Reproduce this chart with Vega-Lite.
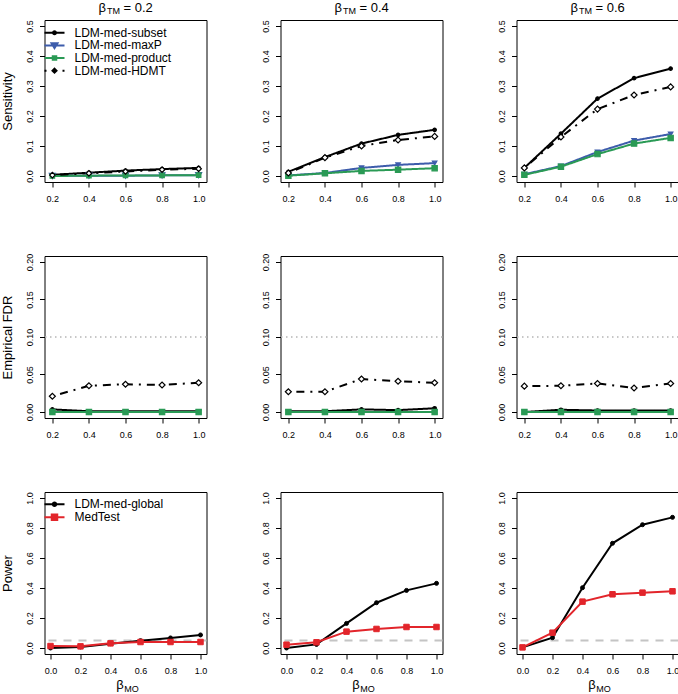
{
"$schema":"https://vega.github.io/schema/vega-lite/v6.json",
"background":"white",
"padding":{"left":0.5,"top":1,"right":0,"bottom":0},
"datasets":{
"s02":[
{"x":0.2,"method":"LDM-med-subset","value":0.004},{"x":0.4,"method":"LDM-med-subset","value":0.011},{"x":0.6,"method":"LDM-med-subset","value":0.018},{"x":0.8,"method":"LDM-med-subset","value":0.023},{"x":1.0,"method":"LDM-med-subset","value":0.027},
{"x":0.2,"method":"LDM-med-maxP","value":0.0},{"x":0.4,"method":"LDM-med-maxP","value":0.001},{"x":0.6,"method":"LDM-med-maxP","value":0.001},{"x":0.8,"method":"LDM-med-maxP","value":0.002},{"x":1.0,"method":"LDM-med-maxP","value":0.003},
{"x":0.2,"method":"LDM-med-product","value":0.0},{"x":0.4,"method":"LDM-med-product","value":0.001},{"x":0.6,"method":"LDM-med-product","value":0.002},{"x":0.8,"method":"LDM-med-product","value":0.002},{"x":1.0,"method":"LDM-med-product","value":0.003},
{"x":0.2,"method":"LDM-med-HDMT","value":0.003},{"x":0.4,"method":"LDM-med-HDMT","value":0.009},{"x":0.6,"method":"LDM-med-HDMT","value":0.015},{"x":0.8,"method":"LDM-med-HDMT","value":0.021},{"x":1.0,"method":"LDM-med-HDMT","value":0.024}],
"s04":[
{"x":0.2,"method":"LDM-med-subset","value":0.014},{"x":0.4,"method":"LDM-med-subset","value":0.063},{"x":0.6,"method":"LDM-med-subset","value":0.108},{"x":0.8,"method":"LDM-med-subset","value":0.137},{"x":1.0,"method":"LDM-med-subset","value":0.154},
{"x":0.2,"method":"LDM-med-maxP","value":0.002},{"x":0.4,"method":"LDM-med-maxP","value":0.010},{"x":0.6,"method":"LDM-med-maxP","value":0.027},{"x":0.8,"method":"LDM-med-maxP","value":0.037},{"x":1.0,"method":"LDM-med-maxP","value":0.043},
{"x":0.2,"method":"LDM-med-product","value":0.001},{"x":0.4,"method":"LDM-med-product","value":0.009},{"x":0.6,"method":"LDM-med-product","value":0.017},{"x":0.8,"method":"LDM-med-product","value":0.021},{"x":1.0,"method":"LDM-med-product","value":0.026},
{"x":0.2,"method":"LDM-med-HDMT","value":0.010},{"x":0.4,"method":"LDM-med-HDMT","value":0.061},{"x":0.6,"method":"LDM-med-HDMT","value":0.100},{"x":0.8,"method":"LDM-med-HDMT","value":0.120},{"x":1.0,"method":"LDM-med-HDMT","value":0.132}],
"s06":[
{"x":0.2,"method":"LDM-med-subset","value":0.027},{"x":0.4,"method":"LDM-med-subset","value":0.141},{"x":0.6,"method":"LDM-med-subset","value":0.258},{"x":0.8,"method":"LDM-med-subset","value":0.326},{"x":1.0,"method":"LDM-med-subset","value":0.358},
{"x":0.2,"method":"LDM-med-maxP","value":0.006},{"x":0.4,"method":"LDM-med-maxP","value":0.033},{"x":0.6,"method":"LDM-med-maxP","value":0.080},{"x":0.8,"method":"LDM-med-maxP","value":0.118},{"x":1.0,"method":"LDM-med-maxP","value":0.140},
{"x":0.2,"method":"LDM-med-product","value":0.004},{"x":0.4,"method":"LDM-med-product","value":0.031},{"x":0.6,"method":"LDM-med-product","value":0.073},{"x":0.8,"method":"LDM-med-product","value":0.108},{"x":1.0,"method":"LDM-med-product","value":0.127},
{"x":0.2,"method":"LDM-med-HDMT","value":0.027},{"x":0.4,"method":"LDM-med-HDMT","value":0.130},{"x":0.6,"method":"LDM-med-HDMT","value":0.223},{"x":0.8,"method":"LDM-med-HDMT","value":0.270},{"x":1.0,"method":"LDM-med-HDMT","value":0.297}],
"f02":[
{"x":0.2,"method":"LDM-med-subset","value":0.0035},{"x":0.4,"method":"LDM-med-subset","value":0.001},{"x":0.6,"method":"LDM-med-subset","value":0.001},{"x":0.8,"method":"LDM-med-subset","value":0.001},{"x":1.0,"method":"LDM-med-subset","value":0.001},
{"x":0.2,"method":"LDM-med-maxP","value":0.0},{"x":0.4,"method":"LDM-med-maxP","value":0.0},{"x":0.6,"method":"LDM-med-maxP","value":0.0},{"x":0.8,"method":"LDM-med-maxP","value":0.0},{"x":1.0,"method":"LDM-med-maxP","value":0.0},
{"x":0.2,"method":"LDM-med-product","value":0.0},{"x":0.4,"method":"LDM-med-product","value":0.0},{"x":0.6,"method":"LDM-med-product","value":0.0},{"x":0.8,"method":"LDM-med-product","value":0.0},{"x":1.0,"method":"LDM-med-product","value":0.0},
{"x":0.2,"method":"LDM-med-HDMT","value":0.021},{"x":0.4,"method":"LDM-med-HDMT","value":0.035},{"x":0.6,"method":"LDM-med-HDMT","value":0.037},{"x":0.8,"method":"LDM-med-HDMT","value":0.036},{"x":1.0,"method":"LDM-med-HDMT","value":0.039}],
"f04":[
{"x":0.2,"method":"LDM-med-subset","value":0.001},{"x":0.4,"method":"LDM-med-subset","value":0.001},{"x":0.6,"method":"LDM-med-subset","value":0.0035},{"x":0.8,"method":"LDM-med-subset","value":0.0025},{"x":1.0,"method":"LDM-med-subset","value":0.005},
{"x":0.2,"method":"LDM-med-maxP","value":0.0},{"x":0.4,"method":"LDM-med-maxP","value":0.0},{"x":0.6,"method":"LDM-med-maxP","value":0.0},{"x":0.8,"method":"LDM-med-maxP","value":0.0},{"x":1.0,"method":"LDM-med-maxP","value":0.0},
{"x":0.2,"method":"LDM-med-product","value":0.0},{"x":0.4,"method":"LDM-med-product","value":0.0},{"x":0.6,"method":"LDM-med-product","value":0.0},{"x":0.8,"method":"LDM-med-product","value":0.0},{"x":1.0,"method":"LDM-med-product","value":0.0},
{"x":0.2,"method":"LDM-med-HDMT","value":0.027},{"x":0.4,"method":"LDM-med-HDMT","value":0.027},{"x":0.6,"method":"LDM-med-HDMT","value":0.044},{"x":0.8,"method":"LDM-med-HDMT","value":0.041},{"x":1.0,"method":"LDM-med-HDMT","value":0.039}],
"f06":[
{"x":0.2,"method":"LDM-med-subset","value":0.0},{"x":0.4,"method":"LDM-med-subset","value":0.003},{"x":0.6,"method":"LDM-med-subset","value":0.002},{"x":0.8,"method":"LDM-med-subset","value":0.002},{"x":1.0,"method":"LDM-med-subset","value":0.002},
{"x":0.2,"method":"LDM-med-maxP","value":0.0},{"x":0.4,"method":"LDM-med-maxP","value":0.0},{"x":0.6,"method":"LDM-med-maxP","value":0.0},{"x":0.8,"method":"LDM-med-maxP","value":0.0},{"x":1.0,"method":"LDM-med-maxP","value":0.0},
{"x":0.2,"method":"LDM-med-product","value":0.0},{"x":0.4,"method":"LDM-med-product","value":0.0},{"x":0.6,"method":"LDM-med-product","value":0.0},{"x":0.8,"method":"LDM-med-product","value":0.0},{"x":1.0,"method":"LDM-med-product","value":0.0},
{"x":0.2,"method":"LDM-med-HDMT","value":0.0345},{"x":0.4,"method":"LDM-med-HDMT","value":0.035},{"x":0.6,"method":"LDM-med-HDMT","value":0.038},{"x":0.8,"method":"LDM-med-HDMT","value":0.032},{"x":1.0,"method":"LDM-med-HDMT","value":0.038}],
"p02":[
{"x":0.0,"method":"LDM-med-global","value":0.0},{"x":0.2,"method":"LDM-med-global","value":0.007},{"x":0.4,"method":"LDM-med-global","value":0.029},{"x":0.6,"method":"LDM-med-global","value":0.049},{"x":0.8,"method":"LDM-med-global","value":0.067},{"x":1.0,"method":"LDM-med-global","value":0.087},
{"x":0.0,"method":"MedTest","value":0.013},{"x":0.2,"method":"MedTest","value":0.011},{"x":0.4,"method":"MedTest","value":0.031},{"x":0.6,"method":"MedTest","value":0.040},{"x":0.8,"method":"MedTest","value":0.040},{"x":1.0,"method":"MedTest","value":0.040}],
"p04":[
{"x":0.0,"method":"LDM-med-global","value":0.0},{"x":0.2,"method":"LDM-med-global","value":0.024},{"x":0.4,"method":"LDM-med-global","value":0.164},{"x":0.6,"method":"LDM-med-global","value":0.302},{"x":0.8,"method":"LDM-med-global","value":0.384},{"x":1.0,"method":"LDM-med-global","value":0.431},
{"x":0.0,"method":"MedTest","value":0.022},{"x":0.2,"method":"MedTest","value":0.038},{"x":0.4,"method":"MedTest","value":0.109},{"x":0.6,"method":"MedTest","value":0.127},{"x":0.8,"method":"MedTest","value":0.140},{"x":1.0,"method":"MedTest","value":0.140}],
"p06":[
{"x":0.0,"method":"LDM-med-global","value":0.004},{"x":0.2,"method":"LDM-med-global","value":0.069},{"x":0.4,"method":"LDM-med-global","value":0.402},{"x":0.6,"method":"LDM-med-global","value":0.698},{"x":0.8,"method":"LDM-med-global","value":0.822},{"x":1.0,"method":"LDM-med-global","value":0.871},
{"x":0.0,"method":"MedTest","value":0.004},{"x":0.2,"method":"MedTest","value":0.102},{"x":0.4,"method":"MedTest","value":0.309},{"x":0.6,"method":"MedTest","value":0.358},{"x":0.8,"method":"MedTest","value":0.369},{"x":1.0,"method":"MedTest","value":0.378}],
"one":[{"k":1}]
},
"columns":3,
"spacing":74,
"bounds":"flush",
"resolve":{"scale":{"color":"independent","fill":"independent","stroke":"independent","shape":"independent","size":"independent","strokeDash":"independent"}},
"concat":[
{"width":162,"height":162,"data":{"name":"s02"},
 "resolve":{"scale":{"shape":"independent"}},
 "layer":[
  {"mark":{"type":"line","strokeWidth":2},
   "encoding":{
    "x":{"field":"x","type":"quantitative","scale":{"domain":[0.157,1.043],"nice":false,"zero":false},"axis":{"values":[0.2,0.4,0.6,0.8,1.0],"format":".1f","title":null,"labelOverlap":false,"tickCount":12}},
    "y":{"field":"value","type":"quantitative","scale":{"domain":[-0.02,0.52],"nice":false,"zero":false},"axis":{"values":[0,0.1,0.2,0.3,0.4,0.5],"format":".1f","title":"Sensitivity","labelOverlap":false,"tickCount":12}},
    "stroke":{"field":"method","type":"nominal","scale":{"domain":["LDM-med-subset","LDM-med-maxP","LDM-med-product","LDM-med-HDMT"],"range":["#000000","#3D5CAB","#2A9A55","#000000"]},"legend":null},
    "strokeDash":{"field":"method","type":"nominal","scale":{"domain":["LDM-med-subset","LDM-med-maxP","LDM-med-product","LDM-med-HDMT"],"range":[[1,0],[1,0],[1,0],[2,6,8,6]]},"legend":null}}},
  {"transform":[{"filter":"datum.method === 'LDM-med-subset'"}],
   "mark":{"type":"point","filled":true,"opacity":1,"shape":"circle","size":12,"fill":"#000000","stroke":"#000000","strokeWidth":1.2},
   "encoding":{"x":{"field":"x","type":"quantitative"},"y":{"field":"value","type":"quantitative"}}},
  {"transform":[{"filter":"datum.method === 'LDM-med-maxP'"}],
   "mark":{"type":"point","filled":true,"opacity":1,"shape":"triangle-down","size":36,"fill":"#3D5CAB","stroke":"#3D5CAB","strokeWidth":1.2},
   "encoding":{"x":{"field":"x","type":"quantitative"},"y":{"field":"value","type":"quantitative"}}},
  {"transform":[{"filter":"datum.method === 'LDM-med-product'"}],
   "mark":{"type":"point","filled":true,"opacity":1,"shape":"square","size":20,"fill":"#2A9A55","stroke":"#2A9A55","strokeWidth":1.2},
   "encoding":{"x":{"field":"x","type":"quantitative"},"y":{"field":"value","type":"quantitative"}}},
  {"transform":[{"filter":"datum.method === 'LDM-med-HDMT'"}],
   "mark":{"type":"point","filled":true,"opacity":1,"shape":"diamond","size":30,"fill":"#ffffff","stroke":"#000000","strokeWidth":1.2},
   "encoding":{"x":{"field":"x","type":"quantitative"},"y":{"field":"value","type":"quantitative"}}},
  {"transform":[{"filter":"datum.method === 'LDM-med-subset'"}],
   "mark":{"type":"point","filled":false,"opacity":0,"color":"#000000"},
   "encoding":{"x":{"field":"x","type":"quantitative"},"y":{"field":"value","type":"quantitative"},
    "shape":{"field":"method","type":"nominal","scale":{"domain":["LDM-med-subset"],"range":["M-2,0L2,0M0.3,0A0.3,0.3,0,1,1,-0.3,0A0.3,0.3,0,1,1,0.3,0"]},
      "legend":{"title":null,"orient":"none","legendX":4,"legendY":6.7,"symbolSize":100,"symbolStrokeWidth":2,"symbolOpacity":1,"labelFont":"Liberation Sans","labelFontSize":12,"labelColor":"black","labelOffset":14,"padding":0,"labelLimit":300}}}},
  {"transform":[{"filter":"datum.method === 'LDM-med-maxP'"}],
   "mark":{"type":"point","filled":false,"opacity":0,"color":"#3D5CAB"},
   "encoding":{"x":{"field":"x","type":"quantitative"},"y":{"field":"value","type":"quantitative"},
    "shape":{"field":"method","type":"nominal","scale":{"domain":["LDM-med-maxP"],"range":["M-2,0L2,0M-0.6,-0.45L0.6,-0.45L0,0.55ZM-0.25,-0.25L0.25,-0.25L0,0.2Z"]},
      "legend":{"title":null,"orient":"none","legendX":4,"legendY":19.4,"symbolSize":100,"symbolStrokeWidth":2,"symbolOpacity":1,"labelFont":"Liberation Sans","labelFontSize":12,"labelColor":"black","labelOffset":14,"padding":0,"labelLimit":300}}}},
  {"transform":[{"filter":"datum.method === 'LDM-med-product'"}],
   "mark":{"type":"point","filled":false,"opacity":0,"color":"#2A9A55"},
   "encoding":{"x":{"field":"x","type":"quantitative"},"y":{"field":"value","type":"quantitative"},
    "shape":{"field":"method","type":"nominal","scale":{"domain":["LDM-med-product"],"range":["M-2,0L2,0M-0.35,-0.35L0.35,-0.35L0.35,0.35L-0.35,0.35Z"]},
      "legend":{"title":null,"orient":"none","legendX":4,"legendY":32.0,"symbolSize":100,"symbolStrokeWidth":2,"symbolOpacity":1,"labelFont":"Liberation Sans","labelFontSize":12,"labelColor":"black","labelOffset":14,"padding":0,"labelLimit":300}}}},
  {"transform":[{"filter":"datum.method === 'LDM-med-HDMT'"}],
   "mark":{"type":"point","filled":false,"opacity":0,"color":"#000000"},
   "encoding":{"x":{"field":"x","type":"quantitative"},"y":{"field":"value","type":"quantitative"},
    "shape":{"field":"method","type":"nominal","scale":{"domain":["LDM-med-HDMT"],"range":["M-2,0L-1.6,0M1.6,0L2,0M0,-0.4L0.4,0L0,0.4L-0.4,0ZM-0.3,0L0.3,0"]},
      "legend":{"title":null,"orient":"none","legendX":4,"legendY":44.7,"symbolSize":100,"symbolStrokeWidth":2,"symbolOpacity":1,"labelFont":"Liberation Sans","labelFontSize":12,"labelColor":"black","labelOffset":14,"padding":0,"labelLimit":300}}}},
  {"data":{"name":"one"},"mark":{"type":"text","text":"β","font":"Liberation Sans","fontSize":13,"align":"right","baseline":"alphabetic","dx":-19.5},"encoding":{"x":{"datum":0.6},"y":{"datum":0.5477}}},
  {"data":{"name":"one"},"mark":{"type":"text","text":"TM","font":"Liberation Sans","fontSize":9,"align":"left","baseline":"alphabetic","dx":-18.5,"dy":2.3},"encoding":{"x":{"datum":0.6},"y":{"datum":0.5477}}},
  {"data":{"name":"one"},"mark":{"type":"text","text":"= 0.2","font":"Liberation Sans","fontSize":13,"align":"left","baseline":"alphabetic","dx":-2},"encoding":{"x":{"datum":0.6},"y":{"datum":0.5477}}}
 ]},
{"width":162,"height":162,"data":{"name":"s04"},
 "layer":[
  {"mark":{"type":"line","strokeWidth":2},
   "encoding":{
    "x":{"field":"x","type":"quantitative","scale":{"domain":[0.157,1.043],"nice":false,"zero":false},"axis":{"values":[0.2,0.4,0.6,0.8,1.0],"format":".1f","title":null,"labelOverlap":false,"tickCount":12}},
    "y":{"field":"value","type":"quantitative","scale":{"domain":[-0.02,0.52],"nice":false,"zero":false},"axis":{"values":[0,0.1,0.2,0.3,0.4,0.5],"format":".1f","title":null,"labelOverlap":false,"tickCount":12}},
    "stroke":{"field":"method","type":"nominal","scale":{"domain":["LDM-med-subset","LDM-med-maxP","LDM-med-product","LDM-med-HDMT"],"range":["#000000","#3D5CAB","#2A9A55","#000000"]},"legend":null},
    "strokeDash":{"field":"method","type":"nominal","scale":{"domain":["LDM-med-subset","LDM-med-maxP","LDM-med-product","LDM-med-HDMT"],"range":[[1,0],[1,0],[1,0],[2,6,8,6]]},"legend":null}}},
  {"mark":{"type":"point","filled":true,"opacity":1,"strokeWidth":1.2},
   "encoding":{
    "x":{"field":"x","type":"quantitative","scale":{"domain":[0.157,1.043],"nice":false,"zero":false},"axis":{"values":[0.2,0.4,0.6,0.8,1.0],"format":".1f","title":null,"labelOverlap":false,"tickCount":12}},
    "y":{"field":"value","type":"quantitative","scale":{"domain":[-0.02,0.52],"nice":false,"zero":false},"axis":{"values":[0,0.1,0.2,0.3,0.4,0.5],"format":".1f","title":null,"labelOverlap":false,"tickCount":12}},
    "fill":{"field":"method","type":"nominal","scale":{"domain":["LDM-med-subset","LDM-med-maxP","LDM-med-product","LDM-med-HDMT"],"range":["#000000","#3D5CAB","#2A9A55","#ffffff"]},"legend":null},
    "stroke":{"field":"method","type":"nominal","scale":{"domain":["LDM-med-subset","LDM-med-maxP","LDM-med-product","LDM-med-HDMT"],"range":["#000000","#3D5CAB","#2A9A55","#000000"]},"legend":null},
    "shape":{"field":"method","type":"nominal","scale":{"domain":["LDM-med-subset","LDM-med-maxP","LDM-med-product","LDM-med-HDMT"],"range":["circle","triangle-down","square","diamond"]},"legend":null},
    "size":{"field":"method","type":"nominal","scale":{"domain":["LDM-med-subset","LDM-med-maxP","LDM-med-product","LDM-med-HDMT"],"range":[12,36,20,30]},"legend":null}}},
  {"data":{"name":"one"},"mark":{"type":"text","text":"β","font":"Liberation Sans","fontSize":13,"align":"right","baseline":"alphabetic","dx":-19.5},"encoding":{"x":{"datum":0.6},"y":{"datum":0.5477}}},
  {"data":{"name":"one"},"mark":{"type":"text","text":"TM","font":"Liberation Sans","fontSize":9,"align":"left","baseline":"alphabetic","dx":-18.5,"dy":2.3},"encoding":{"x":{"datum":0.6},"y":{"datum":0.5477}}},
  {"data":{"name":"one"},"mark":{"type":"text","text":"= 0.4","font":"Liberation Sans","fontSize":13,"align":"left","baseline":"alphabetic","dx":-2},"encoding":{"x":{"datum":0.6},"y":{"datum":0.5477}}}
 ]},
{"width":162,"height":162,"data":{"name":"s06"},
 "layer":[
  {"mark":{"type":"line","strokeWidth":2},
   "encoding":{
    "x":{"field":"x","type":"quantitative","scale":{"domain":[0.157,1.043],"nice":false,"zero":false},"axis":{"values":[0.2,0.4,0.6,0.8,1.0],"format":".1f","title":null,"labelOverlap":false,"tickCount":12}},
    "y":{"field":"value","type":"quantitative","scale":{"domain":[-0.02,0.52],"nice":false,"zero":false},"axis":{"values":[0,0.1,0.2,0.3,0.4,0.5],"format":".1f","title":null,"labelOverlap":false,"tickCount":12}},
    "stroke":{"field":"method","type":"nominal","scale":{"domain":["LDM-med-subset","LDM-med-maxP","LDM-med-product","LDM-med-HDMT"],"range":["#000000","#3D5CAB","#2A9A55","#000000"]},"legend":null},
    "strokeDash":{"field":"method","type":"nominal","scale":{"domain":["LDM-med-subset","LDM-med-maxP","LDM-med-product","LDM-med-HDMT"],"range":[[1,0],[1,0],[1,0],[2,6,8,6]]},"legend":null}}},
  {"mark":{"type":"point","filled":true,"opacity":1,"strokeWidth":1.2},
   "encoding":{
    "x":{"field":"x","type":"quantitative","scale":{"domain":[0.157,1.043],"nice":false,"zero":false},"axis":{"values":[0.2,0.4,0.6,0.8,1.0],"format":".1f","title":null,"labelOverlap":false,"tickCount":12}},
    "y":{"field":"value","type":"quantitative","scale":{"domain":[-0.02,0.52],"nice":false,"zero":false},"axis":{"values":[0,0.1,0.2,0.3,0.4,0.5],"format":".1f","title":null,"labelOverlap":false,"tickCount":12}},
    "fill":{"field":"method","type":"nominal","scale":{"domain":["LDM-med-subset","LDM-med-maxP","LDM-med-product","LDM-med-HDMT"],"range":["#000000","#3D5CAB","#2A9A55","#ffffff"]},"legend":null},
    "stroke":{"field":"method","type":"nominal","scale":{"domain":["LDM-med-subset","LDM-med-maxP","LDM-med-product","LDM-med-HDMT"],"range":["#000000","#3D5CAB","#2A9A55","#000000"]},"legend":null},
    "shape":{"field":"method","type":"nominal","scale":{"domain":["LDM-med-subset","LDM-med-maxP","LDM-med-product","LDM-med-HDMT"],"range":["circle","triangle-down","square","diamond"]},"legend":null},
    "size":{"field":"method","type":"nominal","scale":{"domain":["LDM-med-subset","LDM-med-maxP","LDM-med-product","LDM-med-HDMT"],"range":[12,36,20,30]},"legend":null}}},
  {"data":{"name":"one"},"mark":{"type":"text","text":"β","font":"Liberation Sans","fontSize":13,"align":"right","baseline":"alphabetic","dx":-19.5},"encoding":{"x":{"datum":0.6},"y":{"datum":0.5477}}},
  {"data":{"name":"one"},"mark":{"type":"text","text":"TM","font":"Liberation Sans","fontSize":9,"align":"left","baseline":"alphabetic","dx":-18.5,"dy":2.3},"encoding":{"x":{"datum":0.6},"y":{"datum":0.5477}}},
  {"data":{"name":"one"},"mark":{"type":"text","text":"= 0.6","font":"Liberation Sans","fontSize":13,"align":"left","baseline":"alphabetic","dx":-2},"encoding":{"x":{"datum":0.6},"y":{"datum":0.5477}}}
 ]},
{"width":162,"height":162,"data":{"name":"f02"},
 "layer":[
  {"data":{"name":"one"},"mark":{"type":"rule","color":"#b5b5b5","strokeWidth":1.5,"strokeDash":[1.5,3.5]},"encoding":{"y":{"datum":0.1}}},
  {"mark":{"type":"line","strokeWidth":2},
   "encoding":{
    "x":{"field":"x","type":"quantitative","scale":{"domain":[0.157,1.043],"nice":false,"zero":false},"axis":{"values":[0.2,0.4,0.6,0.8,1.0],"format":".1f","title":null,"labelOverlap":false,"tickCount":12}},
    "y":{"field":"value","type":"quantitative","scale":{"domain":[-0.008,0.208],"nice":false,"zero":false},"axis":{"values":[0,0.05,0.1,0.15,0.2],"format":".2f","title":"Empirical FDR","labelOverlap":false,"tickCount":12}},
    "stroke":{"field":"method","type":"nominal","scale":{"domain":["LDM-med-subset","LDM-med-maxP","LDM-med-product","LDM-med-HDMT"],"range":["#000000","#3D5CAB","#2A9A55","#000000"]},"legend":null},
    "strokeDash":{"field":"method","type":"nominal","scale":{"domain":["LDM-med-subset","LDM-med-maxP","LDM-med-product","LDM-med-HDMT"],"range":[[1,0],[1,0],[1,0],[2,6,8,6]]},"legend":null}}},
  {"mark":{"type":"point","filled":true,"opacity":1,"strokeWidth":1.2},
   "encoding":{
    "x":{"field":"x","type":"quantitative","scale":{"domain":[0.157,1.043],"nice":false,"zero":false},"axis":{"values":[0.2,0.4,0.6,0.8,1.0],"format":".1f","title":null,"labelOverlap":false,"tickCount":12}},
    "y":{"field":"value","type":"quantitative","scale":{"domain":[-0.008,0.208],"nice":false,"zero":false},"axis":{"values":[0,0.05,0.1,0.15,0.2],"format":".2f","title":"Empirical FDR","labelOverlap":false,"tickCount":12}},
    "fill":{"field":"method","type":"nominal","scale":{"domain":["LDM-med-subset","LDM-med-maxP","LDM-med-product","LDM-med-HDMT"],"range":["#000000","#3D5CAB","#2A9A55","#ffffff"]},"legend":null},
    "stroke":{"field":"method","type":"nominal","scale":{"domain":["LDM-med-subset","LDM-med-maxP","LDM-med-product","LDM-med-HDMT"],"range":["#000000","#3D5CAB","#2A9A55","#000000"]},"legend":null},
    "shape":{"field":"method","type":"nominal","scale":{"domain":["LDM-med-subset","LDM-med-maxP","LDM-med-product","LDM-med-HDMT"],"range":["circle","triangle-down","square","diamond"]},"legend":null},
    "size":{"field":"method","type":"nominal","scale":{"domain":["LDM-med-subset","LDM-med-maxP","LDM-med-product","LDM-med-HDMT"],"range":[12,36,20,30]},"legend":null}}}
 ]},
{"width":162,"height":162,"data":{"name":"f04"},
 "layer":[
  {"data":{"name":"one"},"mark":{"type":"rule","color":"#b5b5b5","strokeWidth":1.5,"strokeDash":[1.5,3.5]},"encoding":{"y":{"datum":0.1}}},
  {"mark":{"type":"line","strokeWidth":2},
   "encoding":{
    "x":{"field":"x","type":"quantitative","scale":{"domain":[0.157,1.043],"nice":false,"zero":false},"axis":{"values":[0.2,0.4,0.6,0.8,1.0],"format":".1f","title":null,"labelOverlap":false,"tickCount":12}},
    "y":{"field":"value","type":"quantitative","scale":{"domain":[-0.008,0.208],"nice":false,"zero":false},"axis":{"values":[0,0.05,0.1,0.15,0.2],"format":".2f","title":null,"labelOverlap":false,"tickCount":12}},
    "stroke":{"field":"method","type":"nominal","scale":{"domain":["LDM-med-subset","LDM-med-maxP","LDM-med-product","LDM-med-HDMT"],"range":["#000000","#3D5CAB","#2A9A55","#000000"]},"legend":null},
    "strokeDash":{"field":"method","type":"nominal","scale":{"domain":["LDM-med-subset","LDM-med-maxP","LDM-med-product","LDM-med-HDMT"],"range":[[1,0],[1,0],[1,0],[2,6,8,6]]},"legend":null}}},
  {"mark":{"type":"point","filled":true,"opacity":1,"strokeWidth":1.2},
   "encoding":{
    "x":{"field":"x","type":"quantitative","scale":{"domain":[0.157,1.043],"nice":false,"zero":false},"axis":{"values":[0.2,0.4,0.6,0.8,1.0],"format":".1f","title":null,"labelOverlap":false,"tickCount":12}},
    "y":{"field":"value","type":"quantitative","scale":{"domain":[-0.008,0.208],"nice":false,"zero":false},"axis":{"values":[0,0.05,0.1,0.15,0.2],"format":".2f","title":null,"labelOverlap":false,"tickCount":12}},
    "fill":{"field":"method","type":"nominal","scale":{"domain":["LDM-med-subset","LDM-med-maxP","LDM-med-product","LDM-med-HDMT"],"range":["#000000","#3D5CAB","#2A9A55","#ffffff"]},"legend":null},
    "stroke":{"field":"method","type":"nominal","scale":{"domain":["LDM-med-subset","LDM-med-maxP","LDM-med-product","LDM-med-HDMT"],"range":["#000000","#3D5CAB","#2A9A55","#000000"]},"legend":null},
    "shape":{"field":"method","type":"nominal","scale":{"domain":["LDM-med-subset","LDM-med-maxP","LDM-med-product","LDM-med-HDMT"],"range":["circle","triangle-down","square","diamond"]},"legend":null},
    "size":{"field":"method","type":"nominal","scale":{"domain":["LDM-med-subset","LDM-med-maxP","LDM-med-product","LDM-med-HDMT"],"range":[12,36,20,30]},"legend":null}}}
 ]},
{"width":162,"height":162,"data":{"name":"f06"},
 "layer":[
  {"data":{"name":"one"},"mark":{"type":"rule","color":"#b5b5b5","strokeWidth":1.5,"strokeDash":[1.5,3.5]},"encoding":{"y":{"datum":0.1}}},
  {"mark":{"type":"line","strokeWidth":2},
   "encoding":{
    "x":{"field":"x","type":"quantitative","scale":{"domain":[0.157,1.043],"nice":false,"zero":false},"axis":{"values":[0.2,0.4,0.6,0.8,1.0],"format":".1f","title":null,"labelOverlap":false,"tickCount":12}},
    "y":{"field":"value","type":"quantitative","scale":{"domain":[-0.008,0.208],"nice":false,"zero":false},"axis":{"values":[0,0.05,0.1,0.15,0.2],"format":".2f","title":null,"labelOverlap":false,"tickCount":12}},
    "stroke":{"field":"method","type":"nominal","scale":{"domain":["LDM-med-subset","LDM-med-maxP","LDM-med-product","LDM-med-HDMT"],"range":["#000000","#3D5CAB","#2A9A55","#000000"]},"legend":null},
    "strokeDash":{"field":"method","type":"nominal","scale":{"domain":["LDM-med-subset","LDM-med-maxP","LDM-med-product","LDM-med-HDMT"],"range":[[1,0],[1,0],[1,0],[2,6,8,6]]},"legend":null}}},
  {"mark":{"type":"point","filled":true,"opacity":1,"strokeWidth":1.2},
   "encoding":{
    "x":{"field":"x","type":"quantitative","scale":{"domain":[0.157,1.043],"nice":false,"zero":false},"axis":{"values":[0.2,0.4,0.6,0.8,1.0],"format":".1f","title":null,"labelOverlap":false,"tickCount":12}},
    "y":{"field":"value","type":"quantitative","scale":{"domain":[-0.008,0.208],"nice":false,"zero":false},"axis":{"values":[0,0.05,0.1,0.15,0.2],"format":".2f","title":null,"labelOverlap":false,"tickCount":12}},
    "fill":{"field":"method","type":"nominal","scale":{"domain":["LDM-med-subset","LDM-med-maxP","LDM-med-product","LDM-med-HDMT"],"range":["#000000","#3D5CAB","#2A9A55","#ffffff"]},"legend":null},
    "stroke":{"field":"method","type":"nominal","scale":{"domain":["LDM-med-subset","LDM-med-maxP","LDM-med-product","LDM-med-HDMT"],"range":["#000000","#3D5CAB","#2A9A55","#000000"]},"legend":null},
    "shape":{"field":"method","type":"nominal","scale":{"domain":["LDM-med-subset","LDM-med-maxP","LDM-med-product","LDM-med-HDMT"],"range":["circle","triangle-down","square","diamond"]},"legend":null},
    "size":{"field":"method","type":"nominal","scale":{"domain":["LDM-med-subset","LDM-med-maxP","LDM-med-product","LDM-med-HDMT"],"range":[12,36,20,30]},"legend":null}}}
 ]},
{"width":162,"height":162,"data":{"name":"p02"},
 "resolve":{"scale":{"shape":"independent"}},
 "layer":[
  {"data":{"name":"one"},"mark":{"type":"rule","color":"#c4c4c4","strokeWidth":2,"strokeDash":[8,7]},"encoding":{"y":{"datum":0.05}}},
  {"mark":{"type":"line","strokeWidth":2},
   "encoding":{
    "x":{"field":"x","type":"quantitative","scale":{"domain":[-0.04,1.04],"nice":false,"zero":false},"axis":{"values":[0,0.2,0.4,0.6,0.8,1.0],"format":".1f","title":null,"labelOverlap":false,"tickCount":12}},
    "y":{"field":"value","type":"quantitative","scale":{"domain":[-0.04,1.04],"nice":false,"zero":false},"axis":{"values":[0,0.2,0.4,0.6,0.8,1.0],"format":".1f","title":"Power","labelOverlap":false,"tickCount":12}},
    "stroke":{"field":"method","type":"nominal","scale":{"domain":["LDM-med-global","MedTest"],"range":["#000000","#E2252B"]},"legend":null}}},
  {"transform":[{"filter":"datum.method === 'LDM-med-global'"}],
   "mark":{"type":"point","filled":true,"opacity":1,"shape":"circle","size":16,"fill":"#000000","stroke":"#000000","strokeWidth":1},
   "encoding":{"x":{"field":"x","type":"quantitative"},"y":{"field":"value","type":"quantitative"}}},
  {"transform":[{"filter":"datum.method === 'MedTest'"}],
   "mark":{"type":"point","filled":true,"opacity":1,"shape":"square","size":30,"fill":"#E2252B","stroke":"#E2252B","strokeWidth":1},
   "encoding":{"x":{"field":"x","type":"quantitative"},"y":{"field":"value","type":"quantitative"}}},
  {"transform":[{"filter":"datum.method === 'LDM-med-global'"}],
   "mark":{"type":"point","filled":false,"opacity":0,"color":"#000000"},
   "encoding":{"x":{"field":"x","type":"quantitative"},"y":{"field":"value","type":"quantitative"},
    "shape":{"field":"method","type":"nominal","scale":{"domain":["LDM-med-global"],"range":["M-2,0L2,0M0.35,0A0.35,0.35,0,1,1,-0.35,0A0.35,0.35,0,1,1,0.35,0"]},
      "legend":{"title":null,"orient":"none","legendX":4,"legendY":6.2,"symbolSize":100,"symbolStrokeWidth":2,"symbolOpacity":1,"labelFont":"Liberation Sans","labelFontSize":12,"labelColor":"black","labelOffset":14,"padding":0,"labelLimit":300}}}},
  {"transform":[{"filter":"datum.method === 'MedTest'"}],
   "mark":{"type":"point","filled":false,"opacity":0,"color":"#E2252B"},
   "encoding":{"x":{"field":"x","type":"quantitative"},"y":{"field":"value","type":"quantitative"},
    "shape":{"field":"method","type":"nominal","scale":{"domain":["MedTest"],"range":["M-2,0L2,0M-0.55,-0.55L0.55,-0.55L0.55,0.55L-0.55,0.55ZM-0.2,-0.2L0.2,-0.2L0.2,0.2L-0.2,0.2Z"]},
      "legend":{"title":null,"orient":"none","legendX":4,"legendY":19.2,"symbolSize":100,"symbolStrokeWidth":2,"symbolOpacity":1,"labelFont":"Liberation Sans","labelFontSize":12,"labelColor":"black","labelOffset":14,"padding":0,"labelLimit":300}}}},
  {"data":{"name":"one"},"mark":{"type":"text","text":"β","font":"Liberation Sans","fontSize":13,"align":"right","baseline":"alphabetic","dx":-1.8},"encoding":{"x":{"datum":0.5},"y":{"datum":-0.275}}},
  {"data":{"name":"one"},"mark":{"type":"text","text":"MO","font":"Liberation Sans","fontSize":9,"align":"left","baseline":"alphabetic","dx":-1.3,"dy":2.5},"encoding":{"x":{"datum":0.5},"y":{"datum":-0.275}}}
 ]},
{"width":162,"height":162,"data":{"name":"p04"},
 "layer":[
  {"data":{"name":"one"},"mark":{"type":"rule","color":"#c4c4c4","strokeWidth":2,"strokeDash":[8,7]},"encoding":{"y":{"datum":0.05}}},
  {"mark":{"type":"line","strokeWidth":2},
   "encoding":{
    "x":{"field":"x","type":"quantitative","scale":{"domain":[-0.04,1.04],"nice":false,"zero":false},"axis":{"values":[0,0.2,0.4,0.6,0.8,1.0],"format":".1f","title":null,"labelOverlap":false,"tickCount":12}},
    "y":{"field":"value","type":"quantitative","scale":{"domain":[-0.04,1.04],"nice":false,"zero":false},"axis":{"values":[0,0.2,0.4,0.6,0.8,1.0],"format":".1f","title":null,"labelOverlap":false,"tickCount":12}},
    "stroke":{"field":"method","type":"nominal","scale":{"domain":["LDM-med-global","MedTest"],"range":["#000000","#E2252B"]},"legend":null}}},
  {"mark":{"type":"point","filled":true,"opacity":1,"strokeWidth":1},
   "encoding":{
    "x":{"field":"x","type":"quantitative","scale":{"domain":[-0.04,1.04],"nice":false,"zero":false},"axis":{"values":[0,0.2,0.4,0.6,0.8,1.0],"format":".1f","title":null,"labelOverlap":false,"tickCount":12}},
    "y":{"field":"value","type":"quantitative","scale":{"domain":[-0.04,1.04],"nice":false,"zero":false},"axis":{"values":[0,0.2,0.4,0.6,0.8,1.0],"format":".1f","title":null,"labelOverlap":false,"tickCount":12}},
    "fill":{"field":"method","type":"nominal","scale":{"domain":["LDM-med-global","MedTest"],"range":["#000000","#E2252B"]},"legend":null},
    "stroke":{"field":"method","type":"nominal","scale":{"domain":["LDM-med-global","MedTest"],"range":["#000000","#E2252B"]},"legend":null},
    "shape":{"field":"method","type":"nominal","scale":{"domain":["LDM-med-global","MedTest"],"range":["circle","square"]},"legend":null},
    "size":{"field":"method","type":"nominal","scale":{"domain":["LDM-med-global","MedTest"],"range":[16,30]},"legend":null}}},
  {"data":{"name":"one"},"mark":{"type":"text","text":"β","font":"Liberation Sans","fontSize":13,"align":"right","baseline":"alphabetic","dx":-1.8},"encoding":{"x":{"datum":0.5},"y":{"datum":-0.275}}},
  {"data":{"name":"one"},"mark":{"type":"text","text":"MO","font":"Liberation Sans","fontSize":9,"align":"left","baseline":"alphabetic","dx":-1.3,"dy":2.5},"encoding":{"x":{"datum":0.5},"y":{"datum":-0.275}}}
 ]},
{"width":162,"height":162,"data":{"name":"p06"},
 "layer":[
  {"data":{"name":"one"},"mark":{"type":"rule","color":"#c4c4c4","strokeWidth":2,"strokeDash":[8,7]},"encoding":{"y":{"datum":0.05}}},
  {"mark":{"type":"line","strokeWidth":2},
   "encoding":{
    "x":{"field":"x","type":"quantitative","scale":{"domain":[-0.04,1.04],"nice":false,"zero":false},"axis":{"values":[0,0.2,0.4,0.6,0.8,1.0],"format":".1f","title":null,"labelOverlap":false,"tickCount":12}},
    "y":{"field":"value","type":"quantitative","scale":{"domain":[-0.04,1.04],"nice":false,"zero":false},"axis":{"values":[0,0.2,0.4,0.6,0.8,1.0],"format":".1f","title":null,"labelOverlap":false,"tickCount":12}},
    "stroke":{"field":"method","type":"nominal","scale":{"domain":["LDM-med-global","MedTest"],"range":["#000000","#E2252B"]},"legend":null}}},
  {"mark":{"type":"point","filled":true,"opacity":1,"strokeWidth":1},
   "encoding":{
    "x":{"field":"x","type":"quantitative","scale":{"domain":[-0.04,1.04],"nice":false,"zero":false},"axis":{"values":[0,0.2,0.4,0.6,0.8,1.0],"format":".1f","title":null,"labelOverlap":false,"tickCount":12}},
    "y":{"field":"value","type":"quantitative","scale":{"domain":[-0.04,1.04],"nice":false,"zero":false},"axis":{"values":[0,0.2,0.4,0.6,0.8,1.0],"format":".1f","title":null,"labelOverlap":false,"tickCount":12}},
    "fill":{"field":"method","type":"nominal","scale":{"domain":["LDM-med-global","MedTest"],"range":["#000000","#E2252B"]},"legend":null},
    "stroke":{"field":"method","type":"nominal","scale":{"domain":["LDM-med-global","MedTest"],"range":["#000000","#E2252B"]},"legend":null},
    "shape":{"field":"method","type":"nominal","scale":{"domain":["LDM-med-global","MedTest"],"range":["circle","square"]},"legend":null},
    "size":{"field":"method","type":"nominal","scale":{"domain":["LDM-med-global","MedTest"],"range":[16,30]},"legend":null}}},
  {"data":{"name":"one"},"mark":{"type":"text","text":"β","font":"Liberation Sans","fontSize":13,"align":"right","baseline":"alphabetic","dx":-1.8},"encoding":{"x":{"datum":0.5},"y":{"datum":-0.275}}},
  {"data":{"name":"one"},"mark":{"type":"text","text":"MO","font":"Liberation Sans","fontSize":9,"align":"left","baseline":"alphabetic","dx":-1.3,"dy":2.5},"encoding":{"x":{"datum":0.5},"y":{"datum":-0.275}}}
 ]}
],
"config":{
 "view":{"stroke":"#000000","strokeWidth":1},
 "font":"Liberation Sans",
 "axis":{"domain":false,"grid":false,"ticks":true,"tickColor":"#000000","tickSize":5,"tickWidth":1,"labelFont":"Liberation Sans","labelFontSize":9,"labelColor":"#000000","labelFlush":false,"labelOverlap":false,"titleFont":"Liberation Sans","titleFontSize":13,"titleFontWeight":"normal","titleColor":"#000000"},
 "axisY":{"labelAngle":270,"labelAlign":"center","labelBaseline":"alphabetic","labelPadding":6.6,"minExtent":20,"maxExtent":20,"titleAngle":270,"titleBaseline":"alphabetic","titlePadding":12.8},
 "axisX":{"labelAngle":0,"labelAlign":"center","labelBaseline":"top","labelPadding":7.4}
}
}
